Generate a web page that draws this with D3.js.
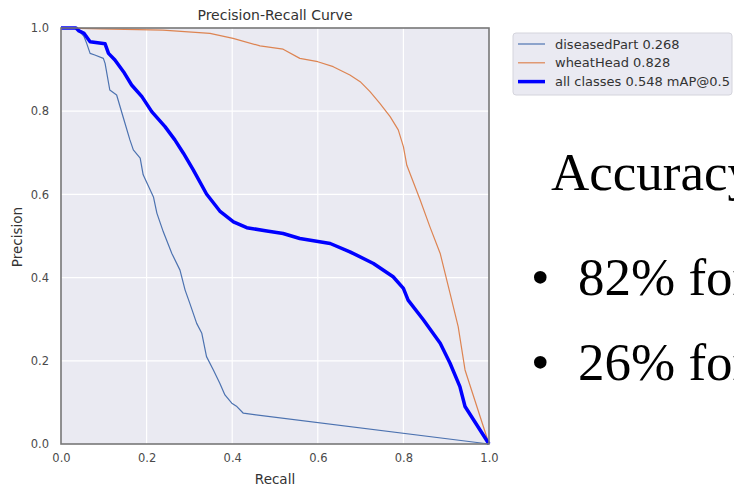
<!DOCTYPE html>
<html>
<head>
<meta charset="utf-8">
<script src="https://cdn.jsdelivr.net/npm/d3@7"></script>
<style>
  html, body { margin: 0; padding: 0; background: #fff; overflow: hidden; }
  svg { display: block; }
</style>
</head>
<body>
<div id="chart"></div>
<script>
// recall / precision pairs
const diseasedPart = [
  [0, 1.0], [0.037, 1.0], [0.054, 0.979], [0.060, 0.963], [0.068, 0.939], [0.079, 0.935],
  [0.099, 0.927], [0.103, 0.915], [0.114, 0.851], [0.130, 0.839], [0.146, 0.783], [0.161, 0.731],
  [0.169, 0.707], [0.185, 0.687], [0.192, 0.647], [0.216, 0.594], [0.224, 0.555], [0.239, 0.510],
  [0.259, 0.458], [0.278, 0.418], [0.290, 0.370], [0.301, 0.338], [0.317, 0.290], [0.329, 0.266],
  [0.340, 0.210], [0.356, 0.178], [0.371, 0.146], [0.383, 0.118], [0.399, 0.098], [0.411, 0.090],
  [0.426, 0.074], [1.0, 0.0]
];
const wheatHead = [
  [0, 1.0], [0.091, 0.998], [0.238, 0.995], [0.348, 0.987], [0.402, 0.975], [0.465, 0.957],
  [0.519, 0.949], [0.558, 0.927], [0.600, 0.919], [0.636, 0.907], [0.675, 0.887], [0.699, 0.871],
  [0.722, 0.847], [0.745, 0.819], [0.769, 0.787], [0.788, 0.755], [0.800, 0.715], [0.808, 0.670],
  [0.839, 0.587], [0.862, 0.522], [0.886, 0.458], [0.909, 0.362], [0.928, 0.282], [0.944, 0.178],
  [1.0, 0.0]
];
const allClasses = [
  [0, 1.0], [0.035, 1.0], [0.042, 0.993], [0.054, 0.987], [0.068, 0.967], [0.103, 0.962],
  [0.111, 0.939], [0.126, 0.923], [0.146, 0.895], [0.165, 0.863], [0.189, 0.835], [0.212, 0.799],
  [0.243, 0.763], [0.266, 0.731], [0.286, 0.699], [0.309, 0.659], [0.340, 0.601], [0.371, 0.560],
  [0.403, 0.534], [0.434, 0.520], [0.481, 0.512], [0.519, 0.506], [0.558, 0.494], [0.629, 0.482],
  [0.675, 0.462], [0.730, 0.434], [0.776, 0.402], [0.800, 0.374], [0.811, 0.346], [0.847, 0.298],
  [0.886, 0.242], [0.909, 0.194], [0.932, 0.138], [0.944, 0.090], [1.0, 0.0]
];
const seriesNames = ['diseasedPart 0.268', 'wheatHead 0.828', 'all classes 0.548 mAP@0.5'];
const tickValues = [0, 0.2, 0.4, 0.6, 0.8, 1.0];
const sideLines = ['Accuracy', '82% for', '26% for'];

const width = 734, height = 487;
const svg = d3.select('#chart').append('svg').attr('width', width).attr('height', height);
svg.append('rect').attr('width', width).attr('height', height).attr('fill', '#fff');

const x = d3.scaleLinear().domain([0, 1]).range([61, 489]);
const y = d3.scaleLinear().domain([0, 1]).range([444, 28]);

const font = 'DejaVu Sans, sans-serif';

// plot background + grid
svg.append('rect')
  .attr('x', x(0)).attr('y', y(1))
  .attr('width', x(1) - x(0)).attr('height', y(0) - y(1))
  .attr('fill', '#eaeaf2');

const grid = svg.append('g');
grid.selectAll('line.gx').data(tickValues.slice(1, -1)).enter().append('line')
  .attr('x1', d => x(d)).attr('x2', d => x(d))
  .attr('y1', y(1)).attr('y2', y(0))
  .attr('stroke', '#fff').attr('stroke-width', 1.2);
grid.selectAll('line.gy').data(tickValues.slice(1, -1)).enter().append('line')
  .attr('y1', d => y(d)).attr('y2', d => y(d))
  .attr('x1', x(0)).attr('x2', x(1))
  .attr('stroke', '#fff').attr('stroke-width', 1.2);

// curves
const line = d3.line().x(d => x(d[0])).y(d => y(d[1]));
const series = [
  { data: diseasedPart, color: '#4c72b0', w: 1.2 },
  { data: wheatHead, color: '#dd8452', w: 1.2 },
  { data: allClasses, color: '#0000ff', w: 3.5 }
];
svg.append('g').selectAll('path').data(series).enter().append('path')
  .attr('d', d => line(d.data))
  .attr('fill', 'none')
  .attr('stroke', d => d.color)
  .attr('stroke-width', d => d.w)
  .attr('stroke-linejoin', 'round');

// frame
svg.append('rect')
  .attr('x', x(0)).attr('y', y(1))
  .attr('width', x(1) - x(0)).attr('height', y(0) - y(1))
  .attr('fill', 'none').attr('stroke', '#777').attr('stroke-width', 1.6);

// axes (labels only, no tick marks)
const xAxis = svg.append('g').attr('transform', `translate(0,${y(0)})`)
  .call(d3.axisBottom(x).tickValues(tickValues).tickFormat(d3.format('.1f')).tickSize(0).tickPadding(10));
const yAxis = svg.append('g').attr('transform', `translate(${x(0)},0)`)
  .call(d3.axisLeft(y).tickValues(tickValues).tickFormat(d3.format('.1f')).tickSize(0).tickPadding(12));
[xAxis, yAxis].forEach(a => {
  a.select('.domain').remove();
  a.selectAll('text').attr('fill', '#4a4a4a').style('font-family', font).style('font-size', '11.5px');
});

svg.append('text').attr('x', 275).attr('y', 20).attr('text-anchor', 'middle')
  .style('font-family', font).style('font-size', '14px').attr('fill', '#333')
  .text('Precision-Recall Curve');
svg.append('text').attr('x', 275).attr('y', 484).attr('text-anchor', 'middle')
  .style('font-family', font).style('font-size', '13.5px').attr('fill', '#333')
  .text('Recall');
svg.append('text').attr('transform', 'translate(22,237) rotate(-90)').attr('text-anchor', 'middle')
  .style('font-family', font).style('font-size', '13.5px').attr('fill', '#333')
  .text('Precision');

// legend
const legend = svg.append('g');
legend.append('rect')
  .attr('x', 513).attr('y', 33).attr('width', 219).attr('height', 62).attr('rx', 3)
  .attr('fill', '#eaeaf2').attr('stroke', '#d4d4dc').attr('stroke-width', 1);
const items = legend.selectAll('g.item').data(series).enter().append('g')
  .attr('transform', (d, i) => `translate(0,${44 + i * 18.8})`);
items.append('line').attr('x1', 518).attr('x2', 545).attr('y1', 0).attr('y2', 0)
  .attr('stroke', d => d.color).attr('stroke-width', d => d.w);
items.append('text').attr('x', 555).attr('y', 4.5)
  .style('font-family', font).style('font-size', '13px').attr('fill', '#333')
  .text((d, i) => seriesNames[i]);

// slide text on the right
const serif = 'Liberation Serif, Times New Roman, serif';
svg.append('text').attr('x', 551).attr('y', 190)
  .style('font-family', serif).style('font-size', '53px').attr('fill', '#000')
  .text(sideLines[0]);
[1, 2].forEach((k, i) => {
  const by = [295, 380][i];
  svg.append('text').attr('x', 531).attr('y', by)
    .style('font-family', serif).style('font-size', '53px').attr('fill', '#000')
    .text('•');
  svg.append('text').attr('x', 578).attr('y', by)
    .style('font-family', serif).style('font-size', '53px').attr('fill', '#000')
    .text(sideLines[k]);
});
</script>
</body>
</html>
